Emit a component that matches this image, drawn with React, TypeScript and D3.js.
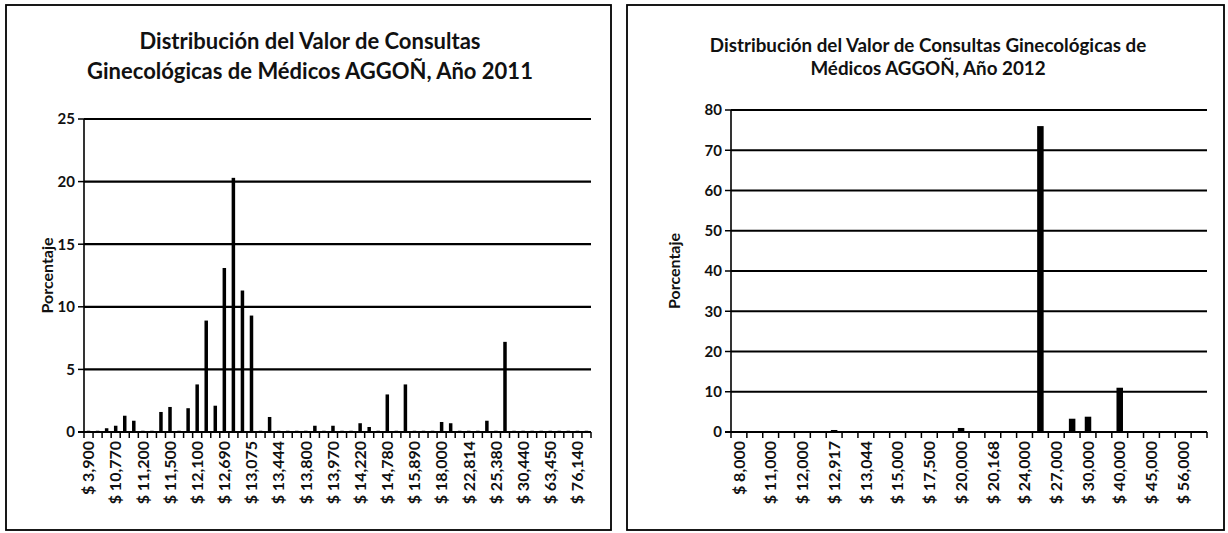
import React from "react";
import * as d3 from "d3";

// ---------- Data: 2011 ----------
const categories2011 = [
  "$ 3,900", "$ 6,000", "$ 9,000",
  "$ 10,770", "$ 10,800", "$ 11,000",
  "$ 11,200", "$ 11,250", "$ 11,400",
  "$ 11,500", "$ 11,700", "$ 12,000",
  "$ 12,100", "$ 12,300", "$ 12,500",
  "$ 12,690", "$ 12,700", "$ 13,000",
  "$ 13,075", "$ 13,200", "$ 13,400",
  "$ 13,444", "$ 13,500", "$ 13,700",
  "$ 13,800", "$ 13,850", "$ 13,900",
  "$ 13,970", "$ 14,000", "$ 14,100",
  "$ 14,220", "$ 14,300", "$ 14,500",
  "$ 14,780", "$ 15,000", "$ 15,500",
  "$ 15,890", "$ 16,000", "$ 17,000",
  "$ 18,000", "$ 19,000", "$ 20,000",
  "$ 22,814", "$ 24,000", "$ 25,000",
  "$ 25,380", "$ 26,000", "$ 28,000",
  "$ 30,440", "$ 35,000", "$ 50,000",
  "$ 63,450", "$ 70,000", "$ 75,000",
  "$ 76,140", "$ 80,000",
];
const values2011 = [
  0.1, 0.1, 0.3,
  0.5, 1.3, 0.9,
  0.1, 0.1, 1.6,
  2.0, 0.1, 1.9,
  3.8, 8.9, 2.1,
  13.1, 20.3, 11.3,
  9.3, 0.1, 1.2,
  0.1, 0.1, 0.1,
  0.1, 0.5, 0.1,
  0.5, 0.1, 0.1,
  0.7, 0.4, 0.1,
  3.0, 0.1, 3.8,
  0.1, 0.1, 0.1,
  0.8, 0.7, 0.1,
  0.1, 0.1, 0.9,
  0.1, 7.2, 0.1,
  0.1, 0.1, 0.1,
  0.1, 0.1, 0.1,
  0.1, 0.1,
];
const yTicks2011 = [0, 5, 10, 15, 20, 25];
const title2011 = [
  "Distribución del Valor de Consultas",
  "Ginecológicas de Médicos AGGOÑ, Año 2011",
];

// ---------- Data: 2012 ----------
const categories2012 = [
  "$ 8,000", "$ 10,000", "$ 11,000", "$ 11,500", "$ 12,000",
  "$ 12,500", "$ 12,917", "$ 13,000", "$ 13,044", "$ 14,000",
  "$ 15,000", "$ 16,000", "$ 17,500", "$ 18,000", "$ 20,000",
  "$ 20,100", "$ 20,168", "$ 22,000", "$ 24,000", "$ 25,000",
  "$ 27,000", "$ 28,000", "$ 30,000", "$ 35,000", "$ 40,000",
  "$ 42,000", "$ 45,000", "$ 50,000", "$ 56,000", "$ 60,000",
];
const values2012 = [
  0.1, 0.1, 0.1, 0.1, 0.1,
  0.1, 0.5, 0.1, 0.1, 0.1,
  0.1, 0.1, 0.1, 0.1, 1.0,
  0.1, 0.1, 0.1, 0.1, 76.0,
  0.1, 3.3, 3.8, 0.1, 11.0,
  0.1, 0.1, 0.1, 0.1, 0.1,
];
const yTicks2012 = [0, 10, 20, 30, 40, 50, 60, 70, 80];
const title2012 = [
  "Distribución del Valor de Consultas Ginecológicas de",
  "Médicos AGGOÑ, Año 2012",
];

const FONT = "Lato, 'Open Sans', sans-serif";

type ChartProps = {
  frame: { x: number; y: number; w: number; h: number };
  plot: { x0: number; x1: number; y0: number; y1: number };
  categories: string[];
  values: number[];
  yTicks: number[];
  titleLines: string[];
  titleX: number;
  titleY: number[];
  titleSize: number;
  labelEvery: number;
  barWidth: number;
  yTitleX: number;
};

function Chart(p: ChartProps) {
  const x = d3
    .scaleBand<string>()
    .domain(p.categories)
    .range([p.plot.x0, p.plot.x1])
    .paddingInner(0)
    .paddingOuter(0);
  const yMax = p.yTicks[p.yTicks.length - 1];
  const y = d3.scaleLinear().domain([0, yMax]).range([p.plot.y0, p.plot.y1]);
  const bw = x.bandwidth();
  const tickXs = d3.range(p.categories.length + 1).map((i) => p.plot.x0 + i * bw);

  return (
    <g>
      <rect
        x={p.frame.x}
        y={p.frame.y}
        width={p.frame.w}
        height={p.frame.h}
        fill="#fff"
        stroke="#000"
        strokeWidth={1.8}
      />
      {p.titleLines.map((t, i) => (
        <text
          key={i}
          x={p.titleX}
          y={p.titleY[i]}
          textAnchor="middle"
          fontFamily={FONT}
          fontWeight={700}
          fontSize={p.titleSize}
          fill="#111"
        >
          {t}
        </text>
      ))}
      {p.yTicks.map((t) => (
        <g key={t}>
          {t > 0 && (
            <line
              x1={p.plot.x0}
              x2={p.plot.x1}
              y1={y(t)}
              y2={y(t)}
              stroke="#000"
              strokeWidth={2.2}
            />
          )}
          <line
            x1={p.plot.x0 - 6}
            x2={p.plot.x0}
            y1={y(t)}
            y2={y(t)}
            stroke="#000"
            strokeWidth={1.5}
          />
          <text
            x={p.plot.x0 - 9}
            y={y(t)}
            dy="0.36em"
            textAnchor="end"
            fontFamily={FONT}
            fontWeight={700}
            fontSize={15}
            fill="#111"
          >
            {t}
          </text>
        </g>
      ))}
      {p.values.map((v, i) => {
        const cx = (x(p.categories[i]) as number) + bw / 2;
        return (
          <rect
            key={i}
            x={cx - p.barWidth / 2}
            y={y(v)}
            width={p.barWidth}
            height={p.plot.y0 - y(v)}
            fill="#000"
          />
        );
      })}
      <line
        x1={p.plot.x0}
        x2={p.plot.x0}
        y1={p.plot.y1}
        y2={p.plot.y0}
        stroke="#000"
        strokeWidth={1.6}
      />
      <line
        x1={p.plot.x0 - 6}
        x2={p.plot.x1}
        y1={p.plot.y0}
        y2={p.plot.y0}
        stroke="#000"
        strokeWidth={2}
      />
      {tickXs.map((tx, i) => (
        <line
          key={i}
          x1={tx}
          x2={tx}
          y1={p.plot.y0}
          y2={p.plot.y0 + 6}
          stroke="#000"
          strokeWidth={1.5}
        />
      ))}
      {p.categories.map((c, i) =>
        i % p.labelEvery === 0 ? (
          <text
            key={c}
            transform={`translate(${(x(c) as number) + bw / 2},${p.plot.y0 + 9}) rotate(-90)`}
            dy="0.36em"
            textAnchor="end"
            fontFamily={FONT}
            fontWeight={700}
            fontSize={16}
            fill="#111"
          >
            {c}
          </text>
        ) : null
      )}
      <text
        transform={`translate(${p.yTitleX},${(p.plot.y0 + p.plot.y1) / 2}) rotate(-90)`}
        textAnchor="middle"
        fontFamily={FONT}
        fontWeight={700}
        fontSize={16}
        fill="#111"
      >
        Porcentaje
      </text>
    </g>
  );
}

export default function App() {
  return (
    <svg
      width={1228}
      height={533}
      style={{ position: "absolute", left: 0, top: 0, background: "#fff" }}
    >
      <rect x={0} y={0} width={1228} height={533} fill="#fff" />
      <Chart
        frame={{ x: 6, y: 5, w: 605, h: 525 }}
        plot={{ x0: 84, x1: 591, y0: 432, y1: 119 }}
        categories={categories2011}
        values={values2011}
        yTicks={yTicks2011}
        titleLines={title2011}
        titleX={310}
        titleY={[49, 79]}
        titleSize={22}
        labelEvery={3}
        barWidth={3.5}
        yTitleX={53}
      />
      <Chart
        frame={{ x: 627, y: 5, w: 597, h: 525 }}
        plot={{ x0: 731, x1: 1207, y0: 432, y1: 110 }}
        categories={categories2012}
        values={values2012}
        yTicks={yTicks2012}
        titleLines={title2012}
        titleX={928}
        titleY={[52, 75]}
        titleSize={18.8}
        labelEvery={2}
        barWidth={6.5}
        yTitleX={680}
      />
    </svg>
  );
}
